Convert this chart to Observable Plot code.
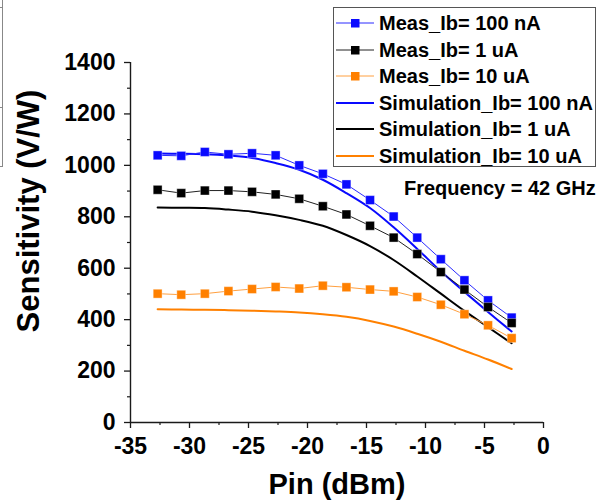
<!DOCTYPE html>
<html>
<head>
<meta charset="utf-8">
<script src="https://cdn.jsdelivr.net/npm/d3@7"></script>
<script src="https://cdn.jsdelivr.net/npm/@observablehq/plot@0.6"></script>
<style>
  html, body { margin: 0; padding: 0; background: #fff; }
  #wrap { position: relative; width: 607px; height: 504px; overflow: hidden;
          font-family: "Liberation Sans", Arial, sans-serif; font-weight: bold; }
  #legend { position: absolute; left: 333px; top: 7px; width: 263px; height: 160px;
            border: 1px solid #555; background: #fff; box-sizing: border-box; }
  .row { position: absolute; left: 0; height: 26px; width: 262px; }
  .row svg { position: absolute; left: 1px; top: 0; }
  .row span { position: absolute; left: 45px; top: 0; line-height: 26px; font-size: 20px; white-space: nowrap; color: #000; }
  #freq { position: absolute; left: 404px; top: 176px; font-size: 20px; line-height: 24px; white-space: nowrap; color: #000; }
  #ylabel { position: absolute; left: -120.7px; top: 193px; width: 300px; height: 36px; line-height: 36px;
            font-size: 31px; text-align: center; white-space: nowrap; color: #000; transform: rotate(-90deg); }
  .art { position: absolute; background: #888; }
</style>
</head>
<body>
<div id="wrap"></div>
<script>
// Data
const pin = [-32.7, -30.7, -28.7, -26.7, -24.7, -22.7, -20.7, -18.7, -16.7, -14.7, -12.7, -10.7, -8.7, -6.7, -4.7, -2.7];
const meas100nA = [1039, 1037, 1052, 1043, 1047, 1039, 1000, 967, 926, 865, 801, 719, 635, 553, 475, 408];
const meas1uA   = [905, 892, 902, 902, 897, 887, 870, 841, 809, 765, 719, 655, 585, 517, 449, 387];
const meas10uA  = [501, 497, 501, 511, 519, 527, 521, 532, 526, 517, 510, 488, 458, 421, 378, 328];
const sim100nA  = [1046, 1045, 1043, 1038, 1029, 1009, 983, 944, 892, 834, 759, 675, 588, 508, 430, 354];
const sim1uA    = [836, 835, 834, 828, 820, 806, 788, 765, 729, 686, 632, 568, 501, 434, 371, 308];
const sim10uA   = [440, 439, 438, 437, 435, 432, 428, 421, 411, 395, 373, 345, 314, 279, 245, 208];

const xTicks = [-35, -30, -25, -20, -15, -10, -5, 0];
const xMinor = [-32.5, -27.5, -22.5, -17.5, -12.5, -7.5, -2.5];
const yTicks = [0, 200, 400, 600, 800, 1000, 1200, 1400];
const yMinor = [100, 300, 500, 700, 900, 1100, 1300];

const seriesNames = ["Meas_Ib= 100 nA", "Meas_Ib= 1 uA", "Meas_Ib= 10 uA",
                     "Simulation_Ib= 100 nA", "Simulation_Ib= 1 uA", "Simulation_Ib= 10 uA"];
const xLabel = "Pin (dBm)";
const yLabel = "Sensitivity (V/W)";
const note = "Frequency = 42 GHz";

const BLUE = "#0a0aff", BLACK = "#000000", ORANGE = "#ff8000";

const rows = (vals) => pin.map((x, i) => ({x, y: vals[i]}));

const meas = [
  {data: rows(meas100nA), color: BLUE, line: "#2a2aff"},
  {data: rows(meas1uA), color: BLACK, line: "#222"},
  {data: rows(meas10uA), color: ORANGE, line: "#ffa040"}
];
const sims = [
  {data: rows(sim100nA), color: BLUE},
  {data: rows(sim1uA), color: BLACK},
  {data: rows(sim10uA), color: ORANGE}
];

const font = "'Liberation Sans', Arial, sans-serif";

const chart = Plot.plot({
  width: 607,
  height: 504,
  marginLeft: 130,
  marginRight: 64,
  marginTop: 62,
  marginBottom: 82,
  x: {domain: [-35, 0]},
  y: {domain: [0, 1400]},
  style: {fontFamily: font, fontWeight: "bold", color: "#1a1a1a", background: "transparent", overflow: "visible"},
  marks: [
    Plot.axisX({ticks: xTicks, tickSize: 6, tickPadding: 9, fontSize: 23, fontWeight: "bold", label: null, tickFormat: d => String(d), strokeWidth: 1.3, fill: "#000"}),
    Plot.axisX({ticks: xMinor, tickSize: 3, label: null, tickFormat: () => "", strokeWidth: 1.2}),
    Plot.axisY({ticks: yTicks, tickSize: 6, tickPadding: 9, fontSize: 23, fontWeight: "bold", label: null, tickFormat: d => String(d), strokeWidth: 1.3, fill: "#000"}),
    Plot.axisY({ticks: yMinor, tickSize: 3, label: null, tickFormat: () => "", strokeWidth: 1.2}),
    Plot.ruleX([-35], {stroke: "#1a1a1a", strokeWidth: 1.4}),
    Plot.ruleY([0], {stroke: "#1a1a1a", strokeWidth: 1.4}),
    ...sims.map(s => Plot.line(s.data, {x: "x", y: "y", stroke: s.color, strokeWidth: 2, curve: "catmull-rom"})),
    ...meas.map(s => Plot.line(s.data, {x: "x", y: "y", stroke: s.line, strokeWidth: 1})),
    ...meas.map(s => Plot.dot(s.data, {x: "x", y: "y", symbol: "square", r: 5, fill: s.color, stroke: "#fff", strokeWidth: 0.6, strokeOpacity: 0.6})),
    Plot.text([xLabel], {frameAnchor: "bottom", dy: 62, fontSize: 29, fontWeight: "bold", fill: "#000", lineAnchor: "middle"})
  ]
});

const wrap = document.getElementById("wrap");
wrap.appendChild(chart);

// Y axis title
const yl = document.createElement("div");
yl.id = "ylabel";
yl.textContent = yLabel;
wrap.appendChild(yl);

// Legend
const legend = document.createElement("div");
legend.id = "legend";
const legendStyles = [
  {color: BLUE, line: "#2a2aff", marker: true},
  {color: BLACK, line: "#222", marker: true},
  {color: ORANGE, line: "#ffa040", marker: true},
  {color: BLUE, marker: false},
  {color: BLACK, marker: false},
  {color: ORANGE, marker: false}
];
seriesNames.forEach((name, i) => {
  const st = legendStyles[i];
  const row = document.createElement("div");
  row.className = "row";
  row.style.top = (2 + i * 26.6) + "px";
  const sym = st.marker
    ? `<svg width="42" height="26"><line x1="1" x2="39" y1="13" y2="13" stroke="${st.line}" stroke-width="1"/><rect x="16" y="9" width="8.5" height="8.5" fill="${st.color}"/></svg>`
    : `<svg width="42" height="26"><line x1="1" x2="39" y1="13" y2="13" stroke="${st.color}" stroke-width="2"/></svg>`;
  row.innerHTML = sym + `<span>${name}</span>`;
  legend.appendChild(row);
});
wrap.appendChild(legend);

const freq = document.createElement("div");
freq.id = "freq";
freq.textContent = note;
wrap.appendChild(freq);

// Cropped frame edge visible at the top-left of the reference
[[2, 0, 1, 166], [0, 7, 3, 1], [0, 107, 3, 1], [0, 166, 3, 1]].forEach(([l, t, w, h]) => {
  const d = document.createElement("div");
  d.className = "art";
  d.style.left = l + "px";
  d.style.top = t + "px";
  d.style.width = w + "px";
  d.style.height = h + "px";
  wrap.appendChild(d);
});
</script>
</body>
</html>
